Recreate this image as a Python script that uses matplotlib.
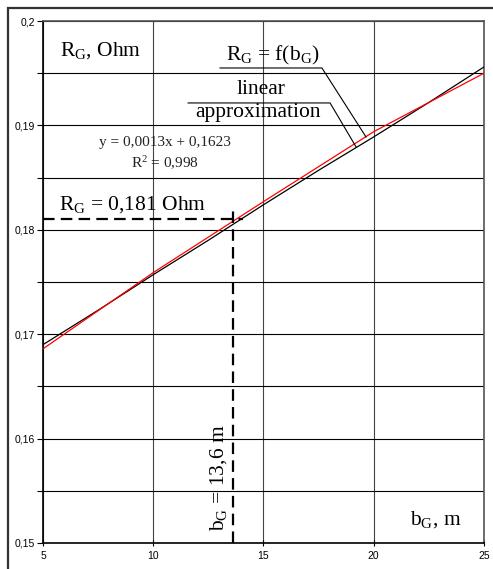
import numpy as np
import matplotlib
matplotlib.use('Agg')
import matplotlib.pyplot as plt
from matplotlib.patches import Rectangle
from matplotlib.ticker import MultipleLocator, FuncFormatter

plt.rcParams['mathtext.fontset'] = 'custom'
plt.rcParams['mathtext.rm'] = 'Liberation Serif'
plt.rcParams['mathtext.it'] = 'Liberation Serif:italic'

# resistance of the grounding grid vs its width
b_G = [5, 7.5, 10, 12.5, 15, 17.5, 20, 22.5, 25]
R_G = [0.1690, 0.1723, 0.1757, 0.1790, 0.1824, 0.1857, 0.1889, 0.1922, 0.1956]

# linear approximation as plotted
approx_b = [5, 10, 15, 20, 25]
approx_R = [0.1686, 0.1759, 0.1827, 0.1894, 0.1950]

# chosen operating point
b_sel = 13.6
R_sel = 0.181

serif = 'Liberation Serif'
sans = 'Liberation Sans'

fig = plt.figure(figsize=(4.93, 5.69), dpi=100)
ax = fig.add_axes([43/493, 1 - 543/569, 441/493, 522/569])

ax.set_xlim(5, 25)
ax.set_ylim(0.15, 0.2)
ax.xaxis.set_major_locator(MultipleLocator(5))
ax.yaxis.set_major_locator(MultipleLocator(0.01))
ax.yaxis.set_minor_locator(MultipleLocator(0.005))
ax.yaxis.set_major_formatter(FuncFormatter(lambda v, p: ('%g' % round(v, 3)).replace('.', ',')))
ax.xaxis.set_major_formatter(FuncFormatter(lambda v, p: '%d' % v))

ax.grid(True, axis='x', which='major', color='#444444', lw=0.8)
ax.grid(True, axis='y', which='both', color='black', lw=0.8)
ax.set_axisbelow(True)

ax.tick_params(axis='y', which='both', direction='out', length=4, width=0.8, labelsize=7.5, pad=2)
ax.tick_params(axis='x', which='major', direction='inout', length=5, width=0.8, labelsize=7.5, pad=3)
for lab in ax.get_xticklabels() + ax.get_yticklabels():
    lab.set_fontfamily(sans)

for side in ('left', 'bottom'):
    ax.spines[side].set_linewidth(1.2)
    ax.spines[side].set_color('black')
for side in ('top', 'right'):
    ax.spines[side].set_linewidth(1.2)
    ax.spines[side].set_color('#555555')

# curves
ax.plot(b_G, R_G, color='black', lw=0.9, zorder=3)
ax.plot(approx_b, approx_R, color='red', lw=0.9, zorder=4)

# dashed guides to the operating point
dash = dict(color='black', lw=1.6, dashes=(5.2, 2.8), zorder=5, clip_on=False)
ax.plot([5, b_sel + 0.45], [R_sel, R_sel], **dash)
ax.plot([b_sel, b_sel], [0.15, R_sel + 0.0008], **dash)

# labels
big = 15.5
ax.text(5.77, 0.19665, r'R$_\mathrm{G}$, Ohm', fontsize=big, family=serif, va='baseline')
ax.text(13.3, 0.19626, r'R$_\mathrm{G}$ = f(b$_\mathrm{G}$)', fontsize=big, family=serif, va='baseline')
ax.text(14.9, 0.19301, 'linear', fontsize=big, family=serif, va='baseline', ha='center')
ax.text(14.75, 0.1908, 'approximation', fontsize=big, family=serif, va='baseline', ha='center')
ax.text(10.53, 0.18803, 'y = 0,0013x + 0,1623', fontsize=11, family=serif,
        va='baseline', ha='center', color='#222222')
ax.text(10.53, 0.18592, r'R$^2$ = 0,998', fontsize=11, family=serif,
        va='baseline', ha='center', color='#222222')
ax.text(5.72, 0.1819, r'R$_\mathrm{G}$ = 0,181 Ohm', fontsize=big, family=serif, va='baseline')
ax.text(12.94, 0.15623, r'b$_\mathrm{G}$ = 13,6 m', fontsize=big, family=serif,
        rotation=90, va='center', ha='center')
ax.text(21.64, 0.15172, r'b$_\mathrm{G}$, m', fontsize=big, family=serif, va='baseline')

# callout leaders
lead = dict(color='black', lw=0.8, zorder=6)
ax.plot([13.03, 17.65, 19.65], [0.1955, 0.1955, 0.18889], **lead)
ax.plot([11.58, 18.02, 19.2], [0.19215, 0.19215, 0.18793], **lead)

# outer frame around the chart
fig.add_artist(Rectangle((8/493, -0.05), 1.2, 1 - 8/569 + 0.05, transform=fig.transFigure,
                         fill=False, lw=1.6, ec='#333333'))

fig.savefig('out.png', dpi=100)
